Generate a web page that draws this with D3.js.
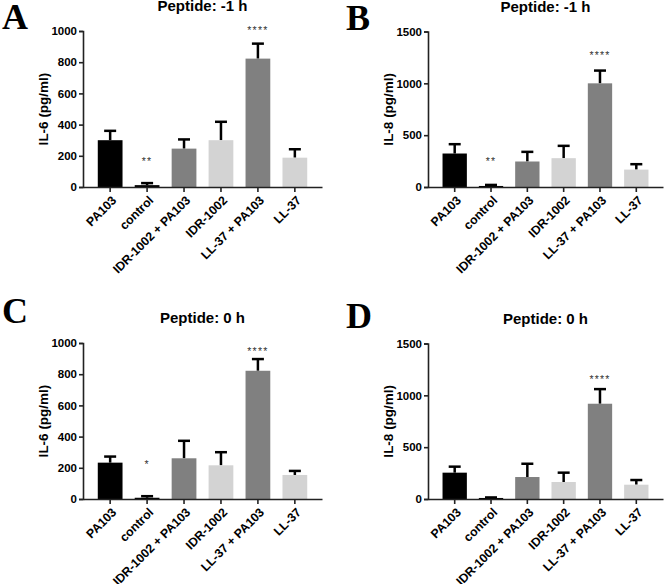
<!DOCTYPE html>
<html>
<head>
<meta charset="utf-8">
<script src="https://cdn.jsdelivr.net/npm/d3@7"></script>
<style>
  html, body { margin: 0; padding: 0; background: #fff; }
  svg { display: block; }
</style>
</head>
<body>
<svg id="chart" width="664" height="584"></svg>
<script>
// ---------------- DATA ----------------
const categories = ["PA103", "control", "IDR-1002 + PA103", "IDR-1002", "LL-37 + PA103", "LL-37"];
const barColors = ["#000000", "#000000", "#808080", "#d3d3d3", "#808080", "#d3d3d3"];

const il6TickValues = [0, 200, 400, 600, 800, 1000];
const il8TickValues = [0, 500, 1000, 1500];

// Panel A: IL-6, peptide -1 h
const aMeans = [300, 12, 246, 300, 823, 188];
const aErrors = [60, 13, 59, 118, 96, 54];
const aStars = ["", "**", "", "", "****", ""];
const aStarLevels = [0, 180, 0, 0, 1020, 0];

// Panel B: IL-8, peptide -1 h
const bMeans = [323, 10, 246, 278, 1000, 168];
const bErrors = [90, 10, 93, 119, 123, 52];
const bStars = ["", "**", "", "", "****", ""];
const bStarLevels = [0, 268, 0, 0, 1294, 0];

// Panel C: IL-6, peptide 0 h
const cMeans = [233, 8, 261, 216, 822, 154];
const cErrors = [39, 10, 112, 84, 75, 26];
const cStars = ["", "*", "", "", "****", ""];
const cStarLevels = [0, 233, 0, 0, 957, 0];

// Panel D: IL-8, peptide 0 h
const dMeans = [254, 10, 212, 164, 919, 138];
const dErrors = [58, 5, 128, 90, 141, 45];
const dStars = ["", "", "", "", "****", ""];
const dStarLevels = [0, 0, 0, 0, 1175, 0];

const panelLetters = ["A", "B", "C", "D"];
const panelTitles = ["Peptide: -1 h", "Peptide: -1 h", "Peptide: 0 h", "Peptide: 0 h"];
const yTitles = ["IL-6 (pg/ml)", "IL-8 (pg/ml)", "IL-6 (pg/ml)", "IL-8 (pg/ml)"];

// ---------------- DRAW ----------------
const svg = d3.select("#chart");
svg.append("rect").attr("width", 664).attr("height", 584).attr("fill", "#fff");

const sans = "'Liberation Sans', Arial, Helvetica, sans-serif";
const serif = "'Liberation Serif', 'Times New Roman', serif";

const panels = [
  { letter: panelLetters[0], title: panelTitles[0], ytitle: yTitles[0], means: aMeans, errs: aErrors, stars: aStars, starLv: aStarLevels,
    ymax: 1000, ticks: il6TickValues, x0: 83, x1: 322, yTop: 31, yBot: 187, lx: 2, ly: 29 },
  { letter: panelLetters[1], title: panelTitles[1], ytitle: yTitles[1], means: bMeans, errs: bErrors, stars: bStars, starLv: bStarLevels,
    ymax: 1500, ticks: il8TickValues, x0: 428, x1: 663, yTop: 31.5, yBot: 187, lx: 346, ly: 30 },
  { letter: panelLetters[2], title: panelTitles[2], ytitle: yTitles[2], means: cMeans, errs: cErrors, stars: cStars, starLv: cStarLevels,
    ymax: 1000, ticks: il6TickValues, x0: 83, x1: 322, yTop: 343, yBot: 499, lx: 2, ly: 323 },
  { letter: panelLetters[3], title: panelTitles[3], ytitle: yTitles[3], means: dMeans, errs: dErrors, stars: dStars, starLv: dStarLevels,
    ymax: 1500, ticks: il8TickValues, x0: 428, x1: 663, yTop: 343.5, yBot: 499, lx: 346, ly: 328 }
];

panels.forEach(p => {
  const g = svg.append("g");
  const x = d3.scaleBand().domain(categories).range([p.x0, p.x1]).paddingInner(0.33).paddingOuter(0.4);
  const y = d3.scaleLinear().domain([0, p.ymax]).range([p.yBot, p.yTop]);

  const rows = categories.map((c, i) => ({ c, m: p.means[i], e: p.errs[i], col: barColors[i], s: p.stars[i], sl: p.starLv[i] }));

  // error bars (upward only)
  const eb = g.append("g");
  eb.selectAll("line.stem").data(rows).join("line")
    .attr("x1", d => x(d.c) + x.bandwidth() / 2).attr("x2", d => x(d.c) + x.bandwidth() / 2)
    .attr("y1", d => y(d.m)).attr("y2", d => y(d.m + d.e))
    .attr("stroke", "#000").attr("stroke-width", 2.5);
  eb.selectAll("line.cap").data(rows).join("line")
    .attr("x1", d => x(d.c) + x.bandwidth() / 2 - 6).attr("x2", d => x(d.c) + x.bandwidth() / 2 + 6)
    .attr("y1", d => y(d.m + d.e)).attr("y2", d => y(d.m + d.e))
    .attr("stroke", "#000").attr("stroke-width", 2.5);

  // bars
  g.append("g").selectAll("rect").data(rows).join("rect")
    .attr("x", d => x(d.c)).attr("width", x.bandwidth())
    .attr("y", d => y(d.m)).attr("height", d => y(0) - y(d.m))
    .attr("fill", d => d.col);

  // significance stars
  g.append("g").selectAll("text").data(rows.filter(d => d.s)).join("text")
    .attr("x", d => x(d.c) + x.bandwidth() / 2).attr("y", d => y(d.sl))
    .attr("dy", "0.55em")
    .attr("text-anchor", "middle")
    .attr("font-family", sans).attr("font-size", 10.5).attr("letter-spacing", 1.2)
    .attr("fill", "#333").text(d => d.s);

  // y axis
  const ya = g.append("g").attr("transform", `translate(${p.x0},0)`)
    .call(d3.axisLeft(y).tickValues(p.ticks).tickSize(4).tickPadding(2).tickFormat(d3.format("d")));
  ya.select(".domain").attr("stroke", "#222").attr("stroke-width", 1.6);
  ya.selectAll(".tick line").attr("stroke", "#222").attr("stroke-width", 1.6);
  ya.selectAll("text").attr("font-family", sans).attr("font-size", 11.5).attr("font-weight", "bold").attr("fill", "#000");

  // x axis
  const xa = g.append("g").attr("transform", `translate(0,${p.yBot})`)
    .call(d3.axisBottom(x).tickSize(5).tickSizeOuter(0));
  xa.select(".domain").attr("stroke", "#222").attr("stroke-width", 1.6);
  xa.selectAll(".tick line").attr("stroke", "#222").attr("stroke-width", 1.6);
  xa.selectAll("text")
    .attr("x", 0).attr("y", 0).attr("dy", "0.35em")
    .attr("transform", "translate(4,11) rotate(-45)")
    .attr("text-anchor", "end")
    .attr("font-family", sans).attr("font-size", 12.3).attr("font-weight", "bold").attr("fill", "#000");

  // y title
  g.append("text")
    .attr("transform", `translate(${p.x0 - 35.5},${(p.yTop + p.yBot) / 2}) rotate(-90)`)
    .attr("text-anchor", "middle")
    .attr("font-family", sans).attr("font-size", 13.5).attr("font-weight", "bold")
    .text(p.ytitle);

  // title
  g.append("text")
    .attr("x", (p.x0 + p.x1) / 2).attr("y", p.yTop - 20)
    .attr("text-anchor", "middle")
    .attr("font-family", sans).attr("font-size", 15).attr("font-weight", "bold")
    .text(p.title);

  // panel letter
  g.append("text")
    .attr("x", p.lx).attr("y", p.ly)
    .attr("font-family", serif).attr("font-size", 36).attr("font-weight", "bold")
    .text(p.letter);
});
</script>
</body>
</html>
